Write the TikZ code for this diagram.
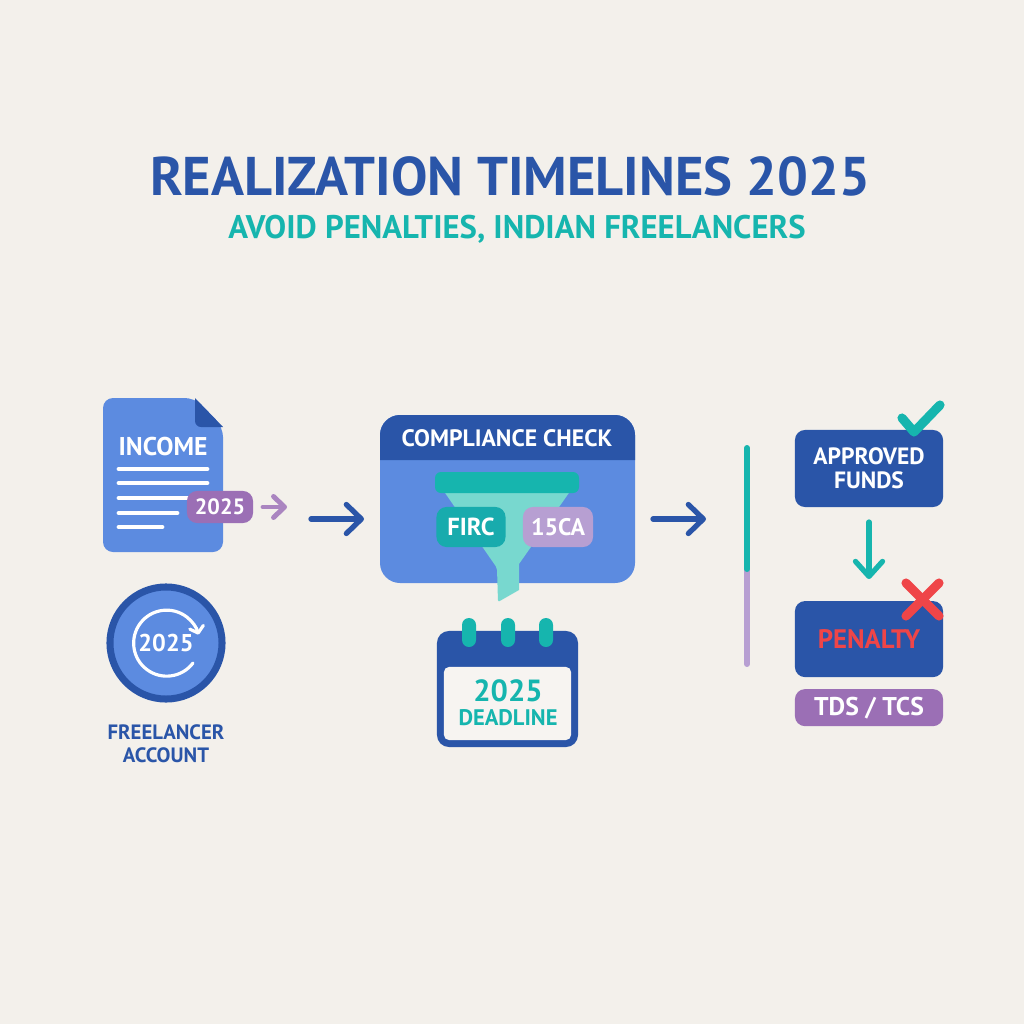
\documentclass[tikz,border=0pt]{standalone}
\usepackage{fontspec}
\setmainfont{PT Sans}
\usepackage{xcolor}
\definecolor{paper}{HTML}{F3F0EB}
\definecolor{navy}{HTML}{2A55A8}
\definecolor{azure}{HTML}{5C8BE0}
\definecolor{teal}{HTML}{16B5AE}
\definecolor{mint}{HTML}{78D8CF}
\definecolor{plum}{HTML}{9B6FB5}
\definecolor{lilac}{HTML}{B79FD2}
\definecolor{alert}{HTML}{EF4548}
\usetikzlibrary{arrows.meta,positioning}
\newcommand{\fs}[1]{\bfseries\fontsize{#1}{#1}\selectfont}
\begin{document}
\begin{tikzpicture}[
  x=0.01cm, y=-0.01cm,
  node distance=0.12cm and 0.1cm,
  tag/.style={rounded corners=1mm, align=center, text=white, inner sep=0pt, outer sep=0pt},
  card/.style={tag, fill=navy, minimum width=1.48cm},
  textline/.style={white, line width=1.4pt, line cap=round},
  ringtab/.style={fill=teal, rounded corners=0.7mm, minimum width=0.14cm, minimum height=0.29cm, inner sep=0pt},
  flow/.style={-{Straight Barb[round, length=1.5mm, width=2.9mm]}, line width=1.5pt, line cap=round, navy},
  stamp/.style={line width=2.6pt, line cap=round, line join=round}
]
\useasboundingbox (0,0) rectangle (1024,1024);
\fill[paper] (0,0) rectangle (1024,1024);

% heading
\node[text=navy, font=\fs{15.5}] (title) at (510,176) {REALIZATION TIMELINES 2025};
\node[text=teal, font=\fs{9.3}] (subtitle) at (517,229) {AVOID PENALTIES, INDIAN FREELANCERS};

% income sheet
\fill[azure, rounded corners=1mm] (103,398) -- (195,398) -- (223,427) -- (223,552) -- (103,552) -- cycle;
\fill[navy] (195,398) -- (223,427) -- (203,427) [rounded corners=0.6mm] -- (195,427) [sharp corners] -- cycle;
\node[text=white, font=\fs{7.3}] (income) at (163,447) {INCOME};
\draw[textline] (119,469) -- (207,469);
\draw[textline] (119,483) -- (207,483);
\draw[textline] (119,498) -- (195,498);
\draw[textline] (119,513) -- (177,513);
\draw[textline] (119,527) -- (162,527);
\node[tag, fill=plum, minimum width=0.66cm, minimum height=0.32cm, font=\fs{6.3}] (year) at (220,507) {2025};
\coordinate (yearout) at (263,507);
\coordinate (yearend) at (287,507);
\draw[-{Straight Barb[round, length=1.1mm, width=2.1mm]}, line width=1.4pt, line cap=round, plum!85] (yearout) -- (yearend);
\coordinate (flowa) at (311,519);
\coordinate (flowb) at (364,519);
\draw[flow] (flowa) -- (flowb);

% account badge
\node[circle, draw=navy, line width=2pt, fill=azure, minimum size=1.12cm, inner sep=0pt, text=white, font=\fs{6.9}] (account) at (166,643) {2025};
\draw[white, line width=0.9pt, line cap=round, -{Straight Barb[round, length=0.6mm, width=1.4mm]}] (193,663) arc[start angle=37, end angle=345, radius=33];
\node[text=navy, align=center, font=\fs{5.9}, below=0.1cm of account] (owner) {FREELANCER\\[0.5pt]ACCOUNT};

% compliance panel
\fill[azure, rounded corners=2mm] (380,415) rectangle (635,583);
\fill[navy, rounded corners=2mm] (380,460) -- (380,415) -- (635,415) -- (635,460);
\node[text=white, font=\fs{6.75}] (check) at (507,438) {COMPLIANCE CHECK};
\fill[mint] (443,490) -- (571,490) -- (519,564) -- (519,590) [rounded corners=0.2mm] -- (498,602) -- (497,568) [sharp corners] -- cycle;
\fill[teal, rounded corners=0.6mm] (435,472) rectangle (579,493);
\node[tag, fill=teal!90!navy, minimum width=0.69cm, minimum height=0.4cm, font=\fs{7}] (firc) at (471,527) {FIRC};
\node[tag, fill=lilac, minimum width=0.7cm, minimum height=0.4cm, font=\fs{6.8}] (form) at (558,527) {15CA};
\coordinate (flowc) at (653,519);
\coordinate (flowd) at (706,519);
\draw[flow] (flowc) -- (flowd);

% calendar
\node[rounded corners=1.2mm, fill=navy, minimum width=1.41cm, minimum height=1.16cm, inner sep=0pt] (calendar) at (507.5,689) {};
\node[rounded corners=0.5mm, fill=paper!70!white, minimum width=1.27cm, minimum height=0.73cm, inner sep=0pt] (sheet) at (507.5,703.5) {};
\node[text=teal, font=\fs{8.7}] (deadyear) at (508,691) {2025};
\node[text=teal, font=\fs{6.4}] (deadline) at (508,718) {DEADLINE};
\node[ringtab] (ringa) at (469,632.5) {};
\node[ringtab] (ringb) at (508,632.5) {};
\node[ringtab] (ringc) at (546,632.5) {};

% outcome track
\coordinate (tracktop) at (747,448);
\coordinate (trackmid) at (747,569);
\coordinate (trackend) at (747,664);
\draw[lilac, line width=1.7pt, line cap=round] (trackmid) -- (trackend);
\draw[teal, line width=1.7pt, line cap=round] (tracktop) -- (trackmid);

% outcomes
\node[card, minimum height=0.77cm, font=\fs{6.7}] (funds) at (869,468.5) {APPROVED\\FUNDS};
\draw[stamp, teal] (902,418) -- (914,432) -- (940,405);
\node[card, minimum height=0.76cm, font=\fs{7.6}, text=alert, below=0.94cm of funds] (penalty) {PENALTY};
\draw[-{Straight Barb[round, length=1.5mm, width=2.7mm]}, line width=1.5pt, line cap=round, teal] ([yshift=-0.15cm]funds.south) -- ([yshift=0.22cm]penalty.north);
\draw[stamp, alert] (906,583) -- (939,616);
\draw[stamp, alert] (939,583) -- (906,616);
\node[tag, fill=plum, minimum width=1.48cm, minimum height=0.37cm, font=\fs{7.3}, below=of penalty] (levy) {TDS / TCS};
\end{tikzpicture}
\end{document}
